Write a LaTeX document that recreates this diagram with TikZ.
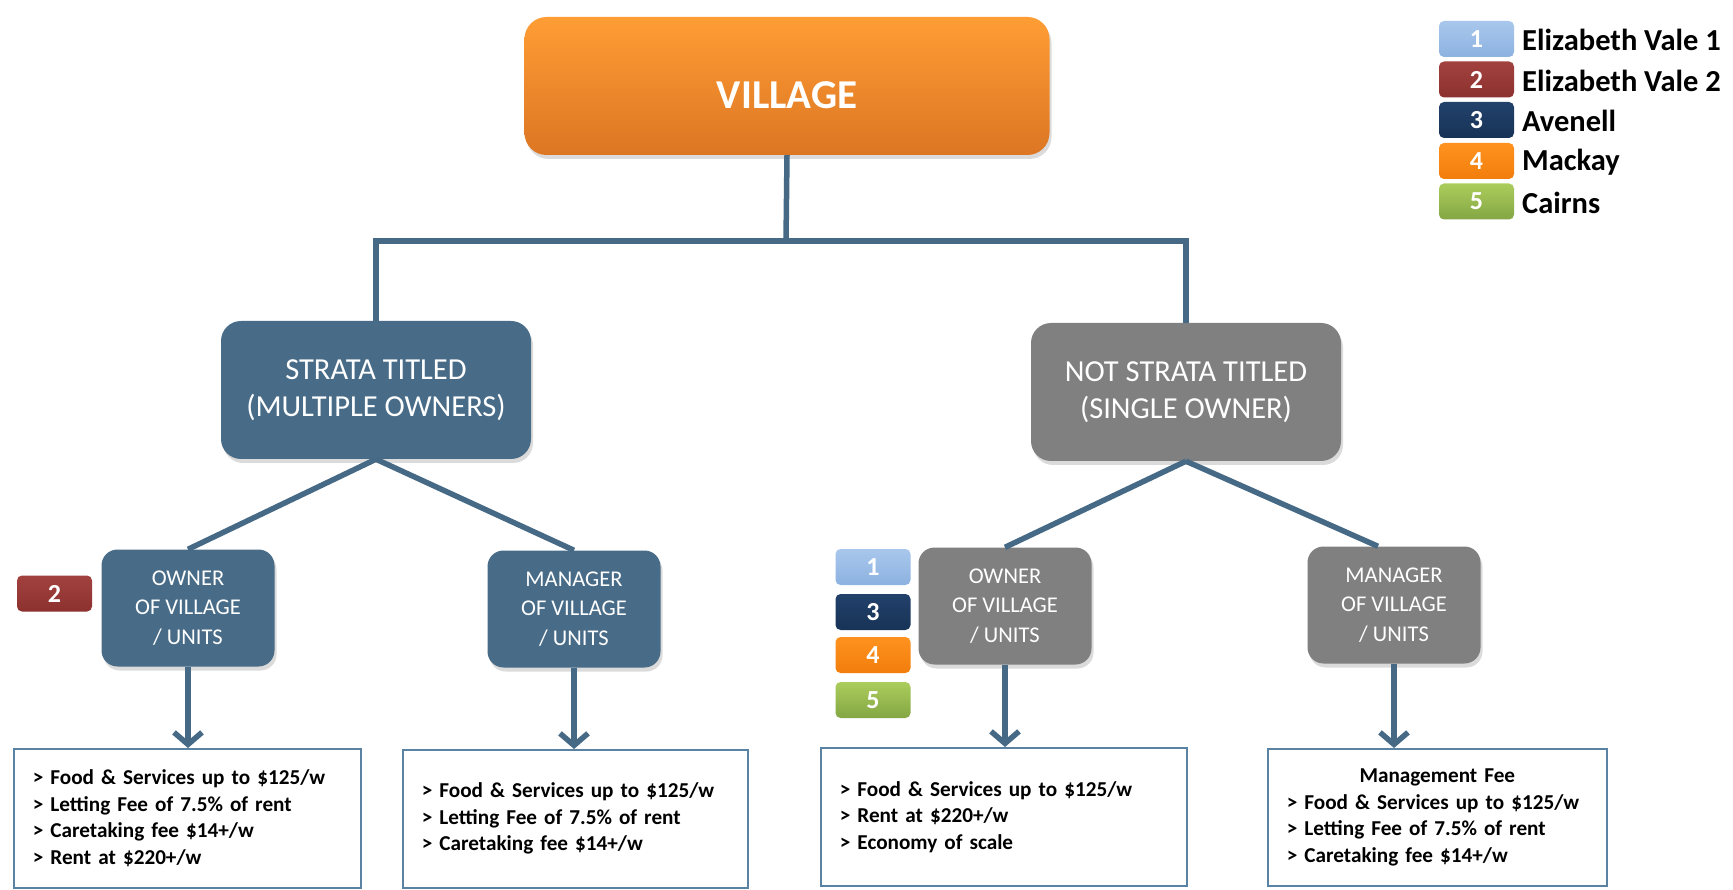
\documentclass[tikz,border=0pt]{standalone}
\usepackage{fontspec}
\setmainfont{Carlito}
\usetikzlibrary{arrows.meta,shadows,calc}
\definecolor{lineblue}{HTML}{466A86}
\definecolor{boxblue}{HTML}{486C88}
\definecolor{boxgray}{HTML}{808080}
\definecolor{orangeT}{HTML}{FF9D35}
\definecolor{orangeB}{HTML}{DC7623}
\definecolor{bordblue}{HTML}{5A82A3}
\definecolor{b1T}{HTML}{A9C7EC}\definecolor{b1B}{HTML}{8CB2E0}
\definecolor{b2T}{HTML}{A2423F}\definecolor{b2B}{HTML}{8C312F}
\definecolor{b3T}{HTML}{22416B}\definecolor{b3B}{HTML}{173356}
\definecolor{b4T}{HTML}{FF921F}\definecolor{b4B}{HTML}{F27E0C}
\definecolor{b5T}{HTML}{ABCD5C}\definecolor{b5B}{HTML}{84A644}
\begin{document}
\begin{tikzpicture}[x=1pt,y=-1pt,
  conn/.style={draw=lineblue,line width=5.5pt},
  arr/.style={conn,-{Straight Barb[length=12pt,width=28pt]}},
  shad/.style={drop shadow={opacity=0.28,shadow xshift=2pt,shadow yshift=-4pt}},
  topbox/.style={shad,rounded corners=22pt,top color=orangeT,bottom color=orangeB,draw=none,text=white,
    minimum width=525pt,minimum height=138pt},
  midbox/.style={shad,rounded corners=20pt,draw=none,text=white,align=center,
    minimum width=310pt,minimum height=138pt,font=\fontsize{30.5}{36.5}\selectfont},
  lowbox/.style={shad,rounded corners=16pt,draw=none,text=white,align=center,
    minimum width=173pt,minimum height=117pt,font=\fontsize{22.5}{29.5}\selectfont},
  listbox/.style={draw=bordblue,line width=1.6pt,fill=white,align=left,inner xsep=19pt,inner ysep=0pt,
    font=\fontsize{21.2}{26.5}\selectfont\bfseries},
  badge/.style={rounded corners=5pt,text=white,minimum width=75pt,minimum height=36pt,inner sep=0pt,
    font=\fontsize{26}{28}\selectfont\bfseries},
  legtext/.style={anchor=west,inner sep=0pt,font=\fontsize{30.5}{32}\selectfont\bfseries}
]
\useasboundingbox (0,0) rectangle (1733,890);
\fill[white] (0,0) rectangle (1733,890);

% main boxes
\node[topbox] (village) at (787,86) {};
\node[text=white,inner sep=0pt,font=\fontsize{41}{48}\selectfont\bfseries] (villagetext) at (787,95) {VILLAGE};
\node[midbox,fill=boxblue] (strata) at (376,390) {STRATA TITLED\\(MULTIPLE OWNERS)};
\node[midbox,fill=boxgray] (notstrata) at (1186,392) {NOT STRATA TITLED\\(SINGLE OWNER)};
\node[lowbox,fill=boxblue] (ownerL) at (188,608) {OWNER\\OF VILLAGE\\/ UNITS};
\node[lowbox,fill=boxblue] (managerL) at (574,609) {MANAGER\\OF VILLAGE\\/ UNITS};
\node[lowbox,fill=boxgray] (ownerR) at (1005,606) {OWNER\\OF VILLAGE\\/ UNITS};
\node[lowbox,fill=boxgray] (managerR) at (1394,605) {MANAGER\\OF VILLAGE\\/ UNITS};

% connectors
\coordinate (hj) at (786,241);
\coordinate (hl) at (376,241);
\coordinate (hr) at (1186,241);
\draw[conn] (village.south) -- (hj);
\draw[conn,line cap=rect] (hl) -- (hr);
\draw[conn] (hl) -- (strata.north);
\draw[conn] (hr) -- (notstrata.north);
\draw[conn] (strata.south) -- (ownerL.north);
\draw[conn] (strata.south) -- (managerL.north);
\coordinate (mRtop) at ($(managerR.north)+(-16,0)$);
\draw[conn] (notstrata.south) -- (ownerR.north);
\draw[conn] (notstrata.south) -- (mRtop);

% list boxes
\node[listbox,anchor=north west,minimum height=139pt,text width=309pt] (l1) at (13,748)
 {> Food \& Services  up to \$125/w\\> Letting Fee of 7.5\% of rent\\> Caretaking fee \$14+/w\\> Rent at \$220+/w};
\node[listbox,anchor=north west,minimum height=138pt,text width=307pt] (l2) at (402,749)
 {> Food \& Services up to \$125/w\\> Letting Fee of 7.5\% of rent\\> Caretaking fee \$14+/w};
\node[listbox,anchor=north west,minimum height=138pt,text width=328pt] (l3) at (820,747)
 {> Food \& Services up to \$125/w\\> Rent at \$220+/w\\> Economy of scale};
\node[listbox,anchor=north west,minimum height=137pt,text width=301pt] (l4) at (1267,748)
 {\makebox[\linewidth]{Management Fee}\\> Food \& Services up to \$125/w\\> Letting Fee of 7.5\% of rent\\> Caretaking fee \$14+/w};

% arrows
\draw[arr] (ownerL.south) -- (ownerL.south |- l1.north);
\draw[arr] (managerL.south) -- (managerL.south |- l2.north);
\draw[arr] (ownerR.south) -- (ownerR.south |- l3.north);
\draw[arr] (managerR.south) -- (managerR.south |- l4.north);

% badges near boxes
\node[badge,top color=b2T,bottom color=b2B] (bL2) at (54.5,593.5) {2};
\node[badge,top color=b1T,bottom color=b1B] (bR1) at (873,567) {1};
\node[badge,top color=b3T,bottom color=b3B] (bR3) at (873,612) {3};
\node[badge,top color=b4T,bottom color=b4B] (bR4) at (873,655) {4};
\node[badge,top color=b5T,bottom color=b5B] (bR5) at (873,700) {5};

% legend
\node[badge,top color=b1T,bottom color=b1B] (g1) at (1476.5,39) {1};
\node[badge,top color=b2T,bottom color=b2B] (g2) at (1476.5,79.5) {2};
\node[badge,top color=b3T,bottom color=b3B] (g3) at (1476.5,120) {3};
\node[badge,top color=b4T,bottom color=b4B] (g4) at (1476.5,161) {4};
\node[badge,top color=b5T,bottom color=b5B] (g5) at (1476.5,201.5) {5};
\node[legtext] (t1) at (1522,40) {Elizabeth Vale 1};
\node[legtext] (t2) at (1522,80.5) {Elizabeth Vale 2};
\node[legtext] (t3) at (1522,121) {Avenell};
\node[legtext] (t4) at (1522,162) {Mackay};
\node[legtext] (t5) at (1522,202.5) {Cairns};
\end{tikzpicture}
\end{document}
